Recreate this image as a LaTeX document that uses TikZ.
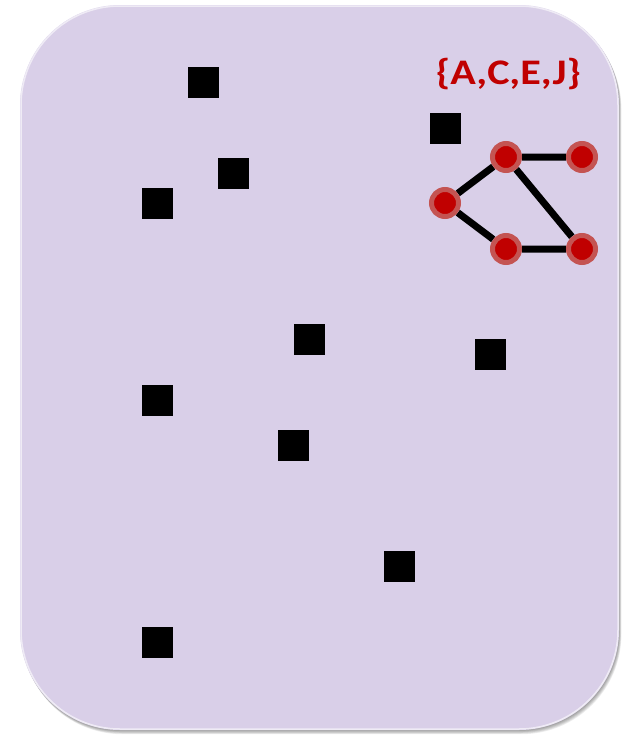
\documentclass[tikz,border=0pt]{standalone}
\usepackage{fontspec}
\setmainfont{Carlito}
\usetikzlibrary{positioning, backgrounds}
\definecolor{lila}{RGB}{217,207,232}
\definecolor{rojito}{RGB}{192,0,0}
\definecolor{rojoclaro}{RGB}{196,84,82}
\tikzset{
  punto/.style={fill=black, minimum size=31pt, inner sep=0pt},
  vertice/.style={circle, fill=rojito, draw=rojoclaro, line width=5pt, minimum size=27pt, inner sep=0pt},
  arista/.style={line width=7pt}
}

\begin{document}
\begin{tikzpicture}[x=1pt,y=-1pt]
        \useasboundingbox (0,0) rectangle (621,736);

        % Box with soft shadow
        \begin{pgfonlayer}{background}
          \foreach \s in {1,...,6}{
            \fill[black, opacity=0.07, rounded corners=100pt] (20+\s*0.4,5+\s*0.7) rectangle (619+\s*0.4,730+\s*0.7);
          }
          \fill[lila, rounded corners=100pt] (20,5) rectangle (619,730);
          \draw[white, opacity=0.6, line width=1.5pt, rounded corners=99pt] (21,6) rectangle (618,729);
        \end{pgfonlayer}

        % Scattered points
        \foreach \x/\y [count=\i] in {203/82, 445/128, 233/173, 157/203, 309/339, 490/354, 157/400, 293/445, 399/566, 157/642}{
          \node[punto] (p\i) at (\x,\y) {};
        }

        % Small graph
        \node[vertice] (a) at (445,203) {};
        \node[vertice] (b) at (506,157) {};
        \node[vertice] (c) at (582,157) {};
        \node[vertice] (d) at (506,249) {};
        \node[vertice] (e) at (582,249) {};
        \begin{pgfonlayer}{background}
          \draw[arista] (a) -- (b) (a) -- (d) (b) -- (c) (b) -- (e) (d) -- (e);
        \end{pgfonlayer}

        % Label of the set
        \node[text=rojito, font=\bfseries\fontsize{36}{36}\selectfont] (conjunto) at (508.5,74) {\scalebox{1.17}[1]{\{A,C,E,J\}}};
\end{tikzpicture}
\end{document}
